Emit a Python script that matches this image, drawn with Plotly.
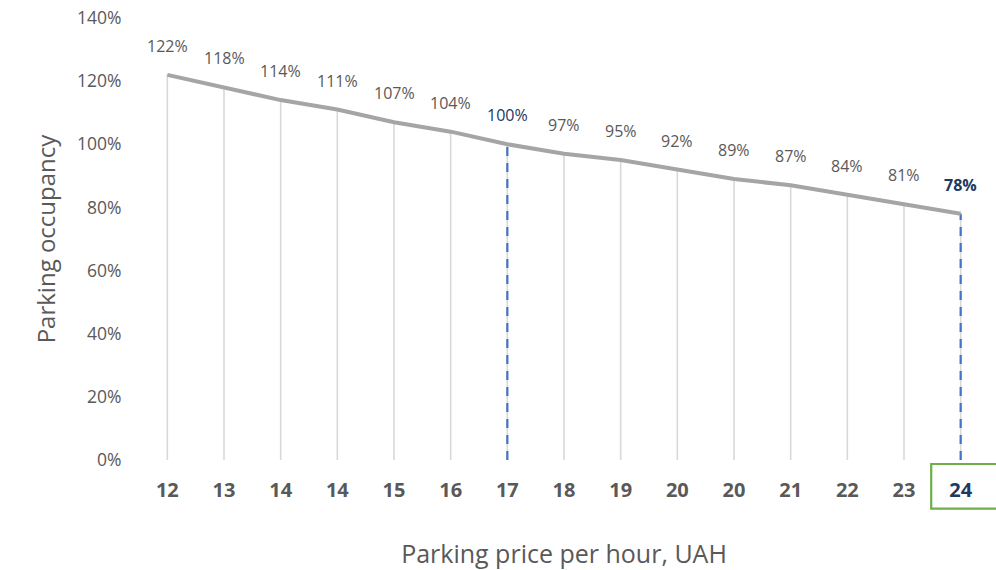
import plotly.graph_objects as go

# Datos
precios = ['12', '13', '14', '14', '15', '16', '17', '18', '19', '20', '20', '21', '22', '23', '24']
ocupacion = [1.22, 1.18, 1.14, 1.11, 1.07, 1.04, 1.00, 0.97, 0.95, 0.92, 0.89, 0.87, 0.84, 0.81, 0.78]
y_ticks = [0, 0.2, 0.4, 0.6, 0.8, 1.0, 1.2, 1.4]
punto_equilibrio = 6   # 100 %
punto_actual = 14      # precio 24

GRIS = '#595959'
AZUL_OSCURO = '#203864'
AZUL = '#4472C4'
VERDE = '#70AD47'
FUENTE = 'Open Sans'

idx = list(range(len(precios)))

fig = go.Figure()

# líneas verticales grises desde cada punto hasta 0
fig.add_trace(go.Scatter(
    x=idx, y=ocupacion, mode='markers',
    marker=dict(size=0.1, color='rgba(0,0,0,0)'),
    error_y=dict(type='data', symmetric=False, array=[0] * len(idx),
                 arrayminus=ocupacion, color='#D9D9D9', thickness=1.6, width=0),
    hoverinfo='skip', showlegend=False
))

# líneas discontinuas azules
for k in (punto_equilibrio, punto_actual):
    fig.add_trace(go.Scatter(
        x=[idx[k], idx[k]], y=[0, ocupacion[k]], mode='lines',
        line=dict(color=AZUL, width=2.2, dash='9px,7px'),
        hoverinfo='skip', showlegend=False
    ))

# curva de ocupación
fig.add_trace(go.Scatter(
    x=idx, y=ocupacion, mode='lines',
    line=dict(color='#A5A5A5', width=4),
    showlegend=False
))

# etiquetas de datos
for i, v in zip(idx, ocupacion):
    txt = f'{round(v * 100)}%'
    color = GRIS
    if i == punto_equilibrio:
        color = AZUL_OSCURO
    if i == punto_actual:
        color = AZUL_OSCURO
        txt = f'<b>{txt}</b>'
    fig.add_annotation(x=i, y=v, text=txt, showarrow=False, yshift=29,
                       yanchor='middle', font=dict(size=16, color=color, family=FUENTE))

ticktext = []
for i, p in enumerate(precios):
    if i == punto_actual:
        ticktext.append(f'<b><span style="color:{AZUL_OSCURO}">{p}</span></b>')
    else:
        ticktext.append(f'<b>{p}</b>')

# recuadro verde alrededor del precio actual (sale por el borde derecho)
fig.add_shape(type='rect', xref='paper', yref='paper',
              x0=0.932, x1=1.03, y0=-0.009, y1=-0.11,
              line=dict(color=VERDE, width=2.2), fillcolor='rgba(0,0,0,0)')

fig.update_layout(
    width=996, height=570,
    margin=dict(l=139, r=7, t=18, b=110),
    plot_bgcolor='white', paper_bgcolor='white',
    font=dict(family=FUENTE, color=GRIS),
)
fig.update_xaxes(
    tickmode='array', tickvals=idx, ticktext=ticktext, automargin=False,
    range=[-0.5, len(idx) - 0.5], showgrid=False, zeroline=False, showline=False,
    ticks='outside', ticklen=0, ticklabelstandoff=12, ticklabeloverflow='allow',
    tickfont=dict(size=20, color=GRIS, family=FUENTE),
    title=dict(text='Parking price per hour, UAH', font=dict(size=25, color=GRIS), standoff=44),
)
fig.update_yaxes(
    range=[0, 1.4], tickmode='array', tickvals=y_ticks, tickformat='.0%', automargin=False,
    showgrid=False, zeroline=False, showline=False,
    ticks='outside', ticklen=0, ticklabelstandoff=13, ticklabeloverflow='allow',
    tickfont=dict(size=17.5, color=GRIS, family=FUENTE),
    title=dict(text='Parking occupancy', font=dict(size=24, color=GRIS), standoff=14),
)

# quitar el margen del body para que la figura ocupe toda la ventana
fig.write_html('out.html', config={'displayModeBar': False},
               post_script="document.body.style.margin='0px';")
